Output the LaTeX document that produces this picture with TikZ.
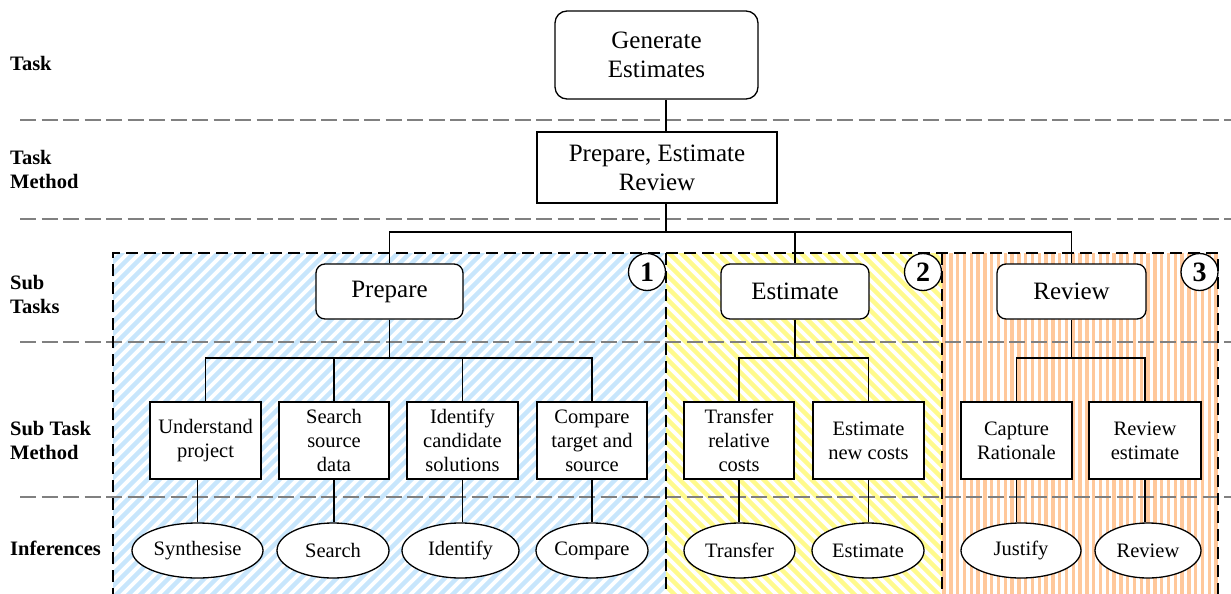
\documentclass[tikz,border=0pt]{standalone}
\usepackage{fontspec}
\setmainfont{Liberation Serif}[Ligatures=TeX]
\usetikzlibrary{shapes.geometric}
\definecolor{hblue}{RGB}{200,230,252}
\definecolor{hyellow}{RGB}{255,250,140}
\definecolor{horange}{RGB}{255,200,155}
\definecolor{lgray}{RGB}{128,128,128}
\begin{document}
\begin{tikzpicture}[x=1pt,y=-1pt,
  bigbox/.style={draw, line width=1.3pt, fill=white, align=center, inner sep=0pt,
    font=\fontsize{25}{29}\selectfont},
  subbox/.style={draw, line width=1.3pt, fill=white, align=center, inner sep=0pt,
    minimum height=77pt, font=\fontsize{20.5}{24}\selectfont},
  infell/.style={draw, ellipse, line width=1.3pt, fill=white, align=center, inner sep=0pt,
    minimum height=55pt, font=\fontsize{20.5}{24}\selectfont},
  lbl/.style={anchor=west, align=left, inner sep=0pt, font=\fontsize{20.5}{24}\selectfont\bfseries},
  numcirc/.style={draw, circle, line width=1.3pt, fill=white, inner sep=0pt, minimum size=37pt,
    font=\fontsize{28}{30}\selectfont\bfseries},
  layerline/.style={lgray, line width=1.8pt, dash pattern=on 16pt off 5.5pt},
  regborder/.style={black, line width=1.4pt, dash pattern=on 12pt off 6pt},
  conn/.style={line width=1.3pt}]
\useasboundingbox (0,0) rectangle (1231,594);
\clip (0,0) rectangle (1231,594);

% hatching
\begin{scope}
  \clip (113,253) rectangle (666,600);
  \foreach \k in {0,...,80} \draw[hblue, line width=4.3pt] ({113-360+\k*12},610) -- ++(360,-360);
\end{scope}
\begin{scope}
  \clip (666,253) rectangle (942,600);
  \foreach \k in {0,...,56} \draw[hyellow, line width=4.3pt] ({666-360+\k*12},250) -- ++(360,360);
\end{scope}
\begin{scope}
  \clip (942,253) rectangle (1218,600);
  \foreach \k in {0,...,40} \draw[horange, line width=3.4pt] ({942+2+\k*6.8},250) -- ++(0,360);
\end{scope}

% layer lines
\foreach \yy in {120,219,342,497} \draw[layerline] (20,\yy) -- (1231,\yy);

% region borders
\draw[regborder] (113,600) |- (1218,253) -- (1218,600);
\draw[regborder] (666,253) -- (666,600);
\draw[regborder] (942,253) -- (942,600);

% labels
\node[lbl] (lt) at (10,63) {Task};
\node[lbl] (ltm) at (10,169) {Task\\Method};
\node[lbl] (lst) at (10,294) {Sub\\Tasks};
\node[lbl] (lstm) at (10,440) {Sub Task\\Method};
\node[lbl] (linf) at (10,548) {Inferences};

% top nodes
\node[bigbox, rounded corners=12pt, minimum width=203pt, minimum height=88pt] (gen) at (656.5,55) {Generate\\Estimates};
\node[bigbox, minimum width=240pt, minimum height=71pt] (per) at (657,167.5) {Prepare, Estimate\\Review};

% sub tasks
\node[bigbox, rounded corners=9pt, minimum width=147pt, minimum height=55pt] (prep) at (389.5,291.5) {Prepare};
\node[bigbox, rounded corners=9pt, minimum width=148pt, minimum height=55pt] (est) at (795,291.5) {Estimate};
\node[bigbox, rounded corners=9pt, minimum width=149pt, minimum height=55pt] (rev) at (1071.5,291.5) {Review};

% sub task methods
\node[subbox, minimum width=111pt] (und) at (205.5,440.5) {Understand\\project};
\node[subbox, minimum width=110pt] (srch) at (334,440.5) {Search\\source\\data};
\node[subbox, minimum width=111pt] (idc) at (462.5,440.5) {Identify\\candidate\\solutions};
\node[subbox, minimum width=110pt] (cmpts) at (592,440.5) {Compare\\target and\\source};
\node[subbox, minimum width=110pt] (trc) at (739,440.5) {Transfer\\relative\\costs};
\node[subbox, minimum width=111pt] (enc) at (868.5,440.5) {Estimate\\new costs};
\node[subbox, minimum width=111pt] (capr) at (1016.5,440.5) {Capture\\Rationale};
\node[subbox, minimum width=112pt] (reve) at (1145,440.5) {Review\\estimate};

% inferences
\node[infell, minimum width=131pt] (syn) at (197.5,550.5) {Synthesise};
\node[infell, minimum width=112pt] (sea) at (333,550.5) {Search};
\node[infell, minimum width=117pt] (ide) at (460.5,550.5) {Identify};
\node[infell, minimum width=112pt] (cmp) at (592,550.5) {Compare};
\node[infell, minimum width=111pt] (tra) at (739.5,550.5) {Transfer};
\node[infell, minimum width=112pt] (esti) at (868,550.5) {Estimate};
\node[infell, minimum width=120pt] (jus) at (1021,550.5) {Justify};
\node[infell, minimum width=106pt] (revi) at (1148,550.5) {Review};

% number circles
\node[numcirc] (n1) at (647,272) {1};
\node[numcirc] (n2) at (923,272) {2};
\node[numcirc] (n3) at (1199.5,272) {3};

% connectors
\coordinate (b0) at (666,232);
\coordinate (p0) at (389.5,358);
\coordinate (e0) at (795,358);
\coordinate (r0) at (1071.5,358);
\draw[conn] ([xshift=9.5pt]gen.south) -- ([xshift=9pt]per.north);
\draw[conn] ([xshift=9pt]per.south) -- (b0);
\draw[conn] (prep.north) |- (b0) -| (rev.north);
\draw[conn] (est.north) -- (est.north |- b0);
\draw[conn] (prep.south) -- (p0);
\draw[conn] (und.north) |- (p0) -| (cmpts.north);
\draw[conn] (srch.north) -- (srch.north |- p0);
\draw[conn] (idc.north) -- (idc.north |- p0);
\draw[conn] (est.south) -- (e0);
\draw[conn] (trc.north) |- (e0) -| (enc.north);
\draw[conn] (rev.south) -- (r0);
\draw[conn] (capr.north) |- (r0) -| (reve.north);
\draw[conn] (syn.north |- und.south) -- (syn.north);
\draw[conn] (srch.south) -- (srch.south |- sea.north);
\draw[conn] (idc.south) -- (idc.south |- ide.north);
\draw[conn] (cmpts.south) -- (cmp.north);
\draw[conn] (trc.south) -- (trc.south |- tra.north);
\draw[conn] (enc.south) -- (enc.south |- esti.north);
\draw[conn] (capr.south) -- (capr.south |- jus.north);
\draw[conn] (reve.south) -- (reve.south |- revi.north);
\end{tikzpicture}
\end{document}
